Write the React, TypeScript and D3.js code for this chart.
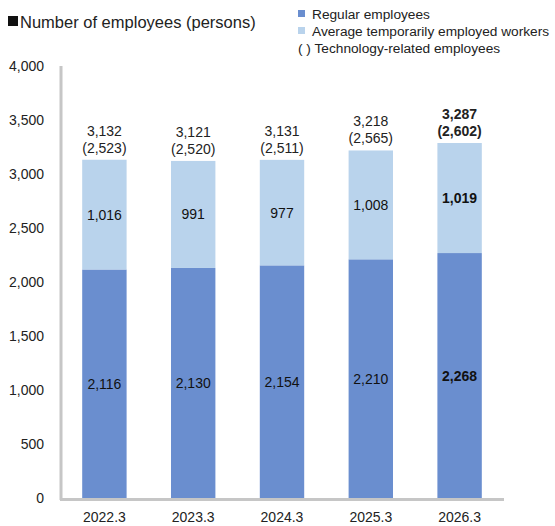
import React from "react";
import * as d3 from "d3";

const categories = ["2022.3", "2023.3", "2024.3", "2025.3", "2026.3"];
const regular = [2116, 2130, 2154, 2210, 2268];
const temporary = [1016, 991, 977, 1008, 1019];
const totals = [3132, 3121, 3131, 3218, 3287];
const technology = [2523, 2520, 2511, 2565, 2602];
const yTicks = [0, 500, 1000, 1500, 2000, 2500, 3000, 3500, 4000];
const boldIndex = [false, false, false, false, true];

const W = 555;
const H = 526;
const DARK = "#6a8ecf";
const LIGHT = "#b9d3ec";
const AXIS = "#c6c6c6";
const FONT = "Liberation Sans, Arial, sans-serif";

export default function App() {
  const x = d3.scaleBand<string>().domain(categories).range([60, 504]).paddingInner(0.5).paddingOuter(0.25);
  const y = d3.scaleLinear().domain([0, 4000]).range([498, 66]);
  const fmt = d3.format(",");
  const bw = x.bandwidth();

  return (
    <svg width={W} height={H} style={{ position: "absolute", left: 0, top: 0, background: "#fff" }} fontFamily={FONT}>
      {/* title */}
      <rect x={8} y={16} width={10} height={10} fill="#111" />
      <text x={20} y={28} fontSize={16.5} fill="#222">Number of employees (persons)</text>
      {/* legend */}
      <rect x={298} y={10} width={7} height={7} fill={DARK} />
      <text x={312} y={18.5} fontSize={13.7} fill="#222">Regular employees</text>
      <rect x={298} y={27} width={7} height={7} fill={LIGHT} />
      <text x={312} y={35.5} fontSize={13.7} fill="#222">Average temporarily employed workers</text>
      <text x={298} y={53} fontSize={13.7} fill="#222">( ) Technology-related employees</text>

      {/* y tick labels */}
      {yTicks.map((t) => (
        <text key={t} x={44} y={y(t) + 5} fontSize={14} textAnchor="end" fill="#222">{fmt(t)}</text>
      ))}

      {/* bars */}
      {categories.map((c, i) => {
        const x0 = x(c)!;
        const cx = x0 + bw / 2;
        const fw = boldIndex[i] ? "bold" : "normal";
        return (
          <g key={c}>
            <rect x={x0} y={y(regular[i])} width={bw} height={y(0) - y(regular[i])} fill={DARK} />
            <rect x={x0} y={y(regular[i] + temporary[i])} width={bw} height={y(regular[i]) - y(regular[i] + temporary[i])} fill={LIGHT} />
            <text x={cx} y={(y(regular[i]) + y(0)) / 2 + 5} fontSize={14} textAnchor="middle" fontWeight={fw} fill="#111">{fmt(regular[i])}</text>
            <text x={cx} y={(y(regular[i]) + y(regular[i] + temporary[i])) / 2 + 5} fontSize={14} textAnchor="middle" fontWeight={fw} fill="#111">{fmt(temporary[i])}</text>
            <text x={cx} y={y(totals[i]) - 24} fontSize={14} textAnchor="middle" fontWeight={fw} fill="#222">{fmt(totals[i])}</text>
            <text x={cx} y={y(totals[i]) - 7} fontSize={14} textAnchor="middle" fontWeight={fw} fill="#222">({fmt(technology[i])})</text>
            <text x={cx} y={522} fontSize={14} textAnchor="middle" fill="#222">{c}</text>
          </g>
        );
      })}

      {/* axes */}
      <line x1={61} x2={61} y1={66} y2={500} stroke={AXIS} strokeWidth={3} />
      <line x1={60} x2={504} y1={499.5} y2={499.5} stroke={AXIS} strokeWidth={3} />
    </svg>
  );
}
